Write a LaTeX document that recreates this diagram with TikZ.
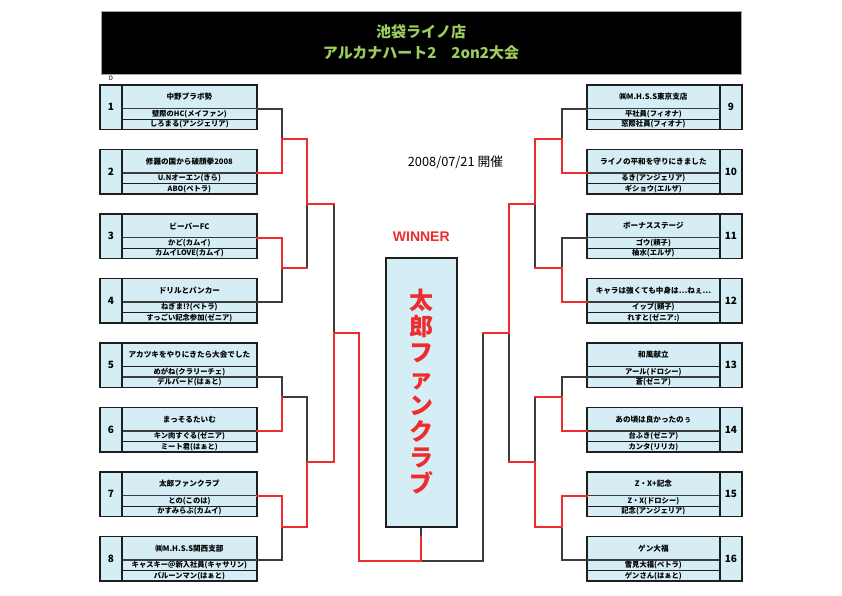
\documentclass[tikz,border=0pt]{standalone}
\usepackage{fontspec}
\setmainfont{Noto Sans CJK JP}
\newfontfamily\lat{Liberation Sans}
\definecolor{lblue}{HTML}{D5EEF6}
\definecolor{winred}{HTML}{EE2B2E}
\definecolor{losegray}{HTML}{3C3C3C}
\definecolor{boxline}{HTML}{1E1E1E}
\definecolor{hdrgreen}{HTML}{9CCB5E}
\tikzset{
  outer/.style={draw=boxline, line width=1.8pt},
  thinline/.style={draw=boxline, line width=0.8pt},
  exitline/.style={draw=losegray, line width=1.5pt},
  win/.style={draw=winred, line width=2pt, line cap=rect},
  lose/.style={draw=losegray, line width=2pt, line cap=rect},
  nm/.style={font=\bfseries\fontsize{7.6}{8}\selectfont, inner sep=0},
  mb/.style={font=\bfseries\fontsize{7.3}{8}\selectfont, inner sep=0},
  num/.style={font=\bfseries\fontsize{10}{11}\selectfont, inner sep=0},
  hdrtext/.style={font=\bfseries\fontsize{15}{16}\selectfont, text=hdrgreen, inner sep=0},
}
% left team box: #1 top, #2 number, #3 name, #4 member1, #5 member2, #6 exit offset
\newcommand\teamL[6]{%
  \fill[lblue] (100,#1) rectangle (257,{#1+44.5});
  \draw[thinline] (121.7,{#1+23.5}) -- (257,{#1+23.5});
  \draw[thinline] (121.7,{#1+34}) -- (257,{#1+34});
  \draw[exitline] (121.7,{#1+#6}) -- (257,{#1+#6});
  \draw[outer] (100,#1) rectangle (257,{#1+44.5});
  \draw[outer] (121.7,#1) -- (121.7,{#1+44.5});
  \node[num] (n#2) at (110.9,{#1+22.3}) {#2};
  \node[nm] (t#2) at (189.4,{#1+11.9}) {#3};
  \node[mb] (a#2) at (189.4,{#1+28.9}) {#4};
  \node[mb] (b#2) at (189.4,{#1+39.3}) {#5};
  \coordinate (e#2) at (257,{#1+#6});
}
% right team box
\newcommand\teamR[6]{%
  \fill[lblue] (586.7,#1) rectangle (741.7,{#1+44.5});
  \draw[thinline] (586.7,{#1+23.5}) -- (720,{#1+23.5});
  \draw[thinline] (586.7,{#1+34}) -- (720,{#1+34});
  \draw[exitline] (586.7,{#1+#6}) -- (720,{#1+#6});
  \draw[outer] (586.7,#1) rectangle (741.7,{#1+44.5});
  \draw[outer] (720,#1) -- (720,{#1+44.5});
  \node[num] (n#2) at (730.9,{#1+22.3}) {#2};
  \node[nm] (t#2) at (653.4,{#1+11.9}) {#3};
  \node[mb] (a#2) at (653.4,{#1+28.9}) {#4};
  \node[mb] (b#2) at (653.4,{#1+39.3}) {#5};
  \coordinate (e#2) at (586.7,{#1+#6});
}
\begin{document}
\begin{tikzpicture}[x=1pt,y=-1pt]
\useasboundingbox (0,0) rectangle (842,595);
\fill[white] (0,0) rectangle (842,595);
% header
\node[fill=black, draw=gray!70, line width=0.6pt, anchor=north west, minimum width=640pt, minimum height=63pt, inner sep=0] (hdr) at (101,11) {};
\node[hdrtext] (h1) at (421,32) {池袋ライノ店};
\node[hdrtext] (h2) at (421,52.5) {アルカナハート2　2on2大会};
\node[font=\fontsize{6}{6}\selectfont, inner sep=0] (dmark) at (111,78.5) {D};
\node[font=\fontsize{12.8}{13}\selectfont, inner sep=0] (date) at (455.5,162) {2008/07/21 開催};
\node[font=\lat\bfseries\fontsize{14}{14}\selectfont, text=winred, inner sep=0] (wtitle) at (421.3,237) {WINNER};
% teams
\teamL{85}{1}{中野プラボ勢}{壁際のHC(メイファン)}{しろまる(アンジェリア)}{23.5}
\teamL{149.5}{2}{修羅の国から破顔拳2008}{U.Nオーエン(きら)}{ABO(ペトラ)}{23.5}
\teamL{214}{3}{ビーバーFC}{かど(カムイ)}{カムイLOVE(カムイ)}{23.5}
\teamL{278.5}{4}{ドリルとパンカー}{ねぎま!?(ペトラ)}{すっごい記念参加(ゼニア)}{23.5}
\teamL{343}{5}{アカツキをやりにきたら大会でした}{めがね(クラリーチェ)}{デルバード(はぁと)}{34}
\teamL{407.5}{6}{まっそるたいむ}{キン肉すぐる(ゼニア)}{ミート君(はぁと)}{23.5}
\teamL{472}{7}{太郎ファンクラブ}{との(このは)}{かすみらぶ(カムイ)}{23.5}
\teamL{536.5}{8}{㈱M.H.S.S関西支部}{キャスキー＠新入社員(キャサリン)}{バルーンマン(はぁと)}{23.5}
\teamR{85}{9}{㈱M.H.S.S東京支店}{平社員(フィオナ)}{窓際社員(フィオナ)}{23.5}
\teamR{149.5}{10}{ライノの平和を守りにきました}{るき(アンジェリア)}{ギショウ(エルザ)}{23.5}
\teamR{214}{11}{ボーナスステージ}{ゴウ(頼子)}{柚水(エルザ)}{23.5}
\teamR{278.5}{12}{キャラは強くても中身は…ねぇ…}{イップ(頼子)}{れすと(ゼニア:)}{23.5}
\teamR{343}{13}{和風献立}{アール(ドロシー)}{蒼(ゼニア)}{34}
\teamR{407.5}{14}{あの頃は良かったのぅ}{台ふき(ゼニア)}{カンタ(リリカ)}{23.5}
\teamR{472}{15}{Z・X+記念}{Z・X(ドロシー)}{記念(アンジェリア)}{23.5}
\teamR{536.5}{16}{ゲン大福}{雪見大福(ペトラ)}{ゲンさん(はぁと)}{23.5}
% winner box
\node[fill=lblue, draw=boxline, line width=1.8pt, minimum width=71pt, minimum height=268.4pt, inner sep=0] (win) at (421.2,392.5) {};
\node[font=\bfseries\fontsize{24}{26.2}\selectfont, text=winred, align=center, inner sep=0] (wname) at (421.2,391.5) {太\\郎\\フ\\ァ\\ン\\ク\\ラ\\ブ};
% bracket coordinates, left
\coordinate (jA) at (282,139);   \coordinate (jA2) at (307,139);
\coordinate (jB) at (282,268.2); \coordinate (jB2) at (307,268.2);
\coordinate (jC) at (282,397.4); \coordinate (jC2) at (307,397.4);
\coordinate (jD) at (282,526.6); \coordinate (jD2) at (307,526.6);
\coordinate (kA) at (307,203.6); \coordinate (kA2) at (334,203.6);
\coordinate (kB) at (307,462);   \coordinate (kB2) at (334,462);
\coordinate (mL) at (334,332.8); \coordinate (mL2) at (359,332.8);
\coordinate (fL) at (359,561);
\coordinate (wS) at (421.2,561); \coordinate (wM) at (421.2,536);
% right
\coordinate (jE) at (562,139);   \coordinate (jE2) at (535,139);
\coordinate (jF) at (562,268.2); \coordinate (jF2) at (535,268.2);
\coordinate (jG) at (562,397.4); \coordinate (jG2) at (535,397.4);
\coordinate (jH) at (562,526.6); \coordinate (jH2) at (535,526.6);
\coordinate (nA) at (535,203.6); \coordinate (nA2) at (508.7,203.6);
\coordinate (nB) at (535,462);   \coordinate (nB2) at (508.7,462);
\coordinate (mR) at (508.7,332.8); \coordinate (mR2) at (482.7,332.8);
\coordinate (fR) at (482.7,561);
% losing lines
\draw[lose] (e1) -| (jA);
\draw[lose] (e4) -| (jB);
\draw[lose] (e5) -| (jC);
\draw[lose] (e8) -| (jD);
\draw[lose] (jC) -- (jC2) -- (kB);
\draw[lose] (kA) -- (jB2);
\draw[lose] (kA2) -- (mL);
\draw[lose] (e9) -| (jE);
\draw[lose] (e11) -| (jF);
\draw[lose] (e13) -| (jG);
\draw[lose] (e16) -| (jH);
\draw[lose] (nA) -- (jF2);
\draw[lose] (jG2) -- (nB);
\draw[lose] (mR) -- (nB2);
\draw[lose] (mR2) -- (fR) -- (wS);
% winning lines
\draw[win] (e2) -| (jA);
\draw[win] (e3) -| (jB);
\draw[win] (e6) -| (jC);
\draw[win] (e7) -| (jD);
\draw[win] (jA) -- (jA2) -- (kA) -- (kA2);
\draw[win] (jB) -- (jB2);
\draw[win] (jD) -- (jD2) -- (kB) -- (kB2) -- (mL) -- (mL2) -- (fL) -- (wS) -- (wM);
\draw[win] (e10) -| (jE);
\draw[win] (e12) -| (jF);
\draw[win] (e14) -| (jG);
\draw[win] (e15) -| (jH);
\draw[win] (jE) -- (jE2) -- (nA) -- (nA2) -- (mR) -- (mR2);
\draw[win] (jF) -- (jF2);
\draw[win] (jG) -- (jG2);
\draw[win] (jH) -- (jH2) -- (nB) -- (nB2);
\draw[lose, line cap=butt] (wM) -- (win.south);
\end{tikzpicture}
\end{document}
